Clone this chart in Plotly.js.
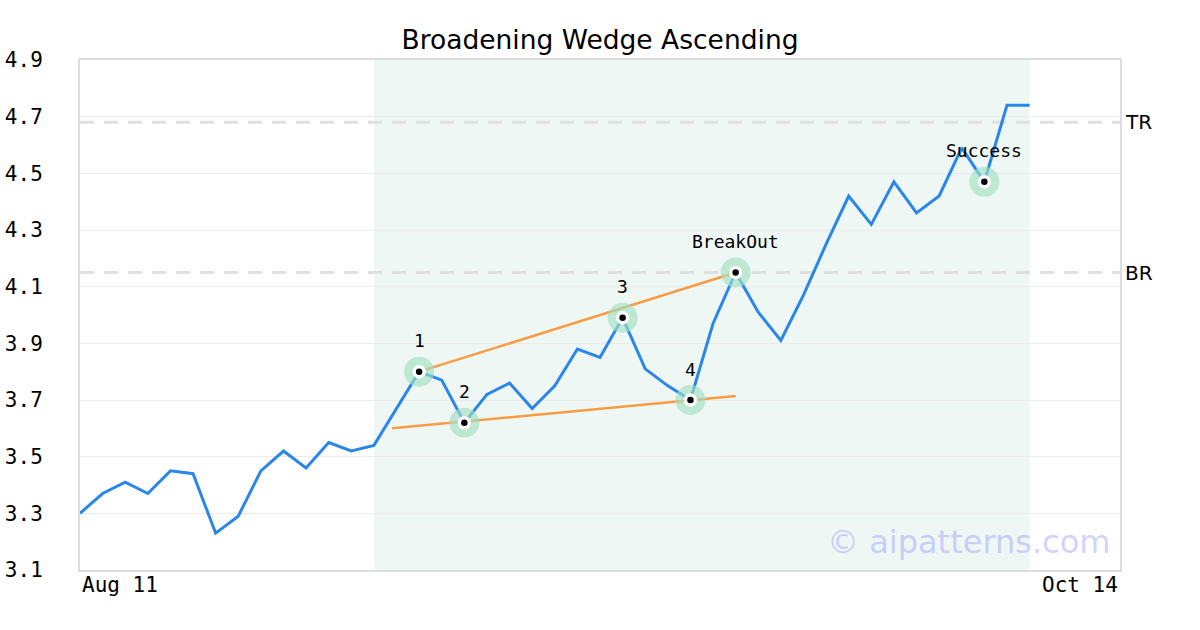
<!DOCTYPE html>
<html>
<head>
<meta charset="utf-8">
<script src="https://cdn.plot.ly/plotly-3.0.1.min.js"></script>
<style>
  html, body { margin: 0; padding: 0; background: #fff; }
  #chart { width: 1200px; height: 630px; }
</style>
</head>
<body>
<div id="chart"></div>
<script>
// ---- Data ----
const prices = [3.30, 3.37, 3.41, 3.37, 3.45, 3.44, 3.23, 3.29, 3.45, 3.52,
                3.46, 3.55, 3.52, 3.54, 3.67, 3.80, 3.77, 3.62, 3.72, 3.76,
                3.67, 3.75, 3.88, 3.85, 3.99, 3.81, 3.75, 3.70, 3.97, 4.15,
                4.01, 3.91, 4.07, 4.25, 4.42, 4.32, 4.47, 4.36, 4.42, 4.59,
                4.47, 4.74, 4.74];
const dateLabels = ["Aug 11", "Oct 14"];
const pointIdx = [15, 17, 24, 27, 29, 40];
const pointLabels = ["1", "2", "3", "4", "BreakOut", "Success"];
const upperLineX = [15, 29];
const upperLineY = [3.80, 4.15];
const lowerLineX = [13.8, 29];
const lowerLineY = [3.60, 3.714];
const levelNames = ["TR", "BR"];
const levelValues = [4.68, 4.15];
const patternStart = 13;
const patternEnd = 42;
const yTicks = [3.1, 3.3, 3.5, 3.7, 3.9, 4.1, 4.3, 4.5, 4.7, 4.9];

const xs = prices.map((_, i) => i);
const ptX = pointIdx;
const ptY = pointIdx.map(i => prices[i]);

const mono = "DejaVu Sans Mono, monospace";
const sans = "DejaVu Sans, sans-serif";

const traces = [
  { x: xs, y: prices, type: "scatter", mode: "lines",
    line: { color: "#2a86e8", width: 3 }, hoverinfo: "skip" },
  { x: upperLineX, y: upperLineY, type: "scatter", mode: "lines",
    line: { color: "#f89c43", width: 2.5 }, hoverinfo: "skip" },
  { x: lowerLineX, y: lowerLineY, type: "scatter", mode: "lines",
    line: { color: "#f89c43", width: 2.5 }, hoverinfo: "skip" },
  { x: ptX, y: ptY, type: "scatter", mode: "markers",
    marker: { size: 30, color: "rgba(160,225,195,0.65)" }, hoverinfo: "skip" },
  { x: ptX, y: ptY, type: "scatter", mode: "markers",
    marker: { size: 10, color: "#000", line: { color: "#fff", width: 3.5 } }, hoverinfo: "skip" }
];

const shapes = [
  { type: "rect", xref: "x", yref: "paper", x0: patternStart, x1: patternEnd, y0: 0, y1: 1,
    fillcolor: "#eff7f4", line: { width: 0 }, layer: "below" }
];
levelValues.forEach(v => shapes.push({
  type: "line", xref: "paper", yref: "y", x0: 0, x1: 1, y0: v, y1: v,
  line: { color: "#e0e0e0", width: 3, dash: "14px,10px" }, layer: "below"
}));

const annotations = [];
pointIdx.forEach((idx, k) => annotations.push({
  x: idx, y: prices[idx], xref: "x", yref: "y", text: pointLabels[k],
  showarrow: false, yshift: 31, font: { family: mono, size: 18, color: "#000" }
}));
levelNames.forEach((n, k) => annotations.push({
  x: 1, y: levelValues[k], xref: "paper", yref: "y", text: n, xanchor: "left",
  xshift: 3, showarrow: false, font: { family: sans, size: 20, color: "#000" }
}));
annotations.push({ x: 0, y: 0, xref: "paper", yref: "paper", text: dateLabels[0],
  xanchor: "left", yanchor: "top", yshift: -1, xshift: 0, showarrow: false,
  font: { family: mono, size: 21, color: "#000" } });
annotations.push({ x: 1, y: 0, xref: "paper", yref: "paper", text: dateLabels[1],
  xanchor: "right", yanchor: "top", yshift: -1, xshift: 0, showarrow: false,
  font: { family: mono, size: 21, color: "#000" } });
annotations.push({ x: 1, y: 0, xref: "paper", yref: "paper", text: "© aipatterns.com",
  xanchor: "right", yanchor: "bottom", xshift: -8, yshift: 7, showarrow: false,
  font: { family: sans, size: 32, color: "rgba(140,140,255,0.4)" } });

const layout = {
  width: 1200, height: 630,
  margin: { l: 80, r: 80, t: 60, b: 60 },
  paper_bgcolor: "#fff", plot_bgcolor: "#fff",
  showlegend: false,
  title: { text: "Broadening Wedge Ascending", x: 0.5, xanchor: "center",
    yref: "container", y: 0.937, yanchor: "middle",
    font: { family: sans, size: 26.5, color: "#000" } },
  xaxis: { range: [0, 46], showgrid: false, zeroline: false, showticklabels: false,
    showline: true, mirror: true, linecolor: "#dddddd", linewidth: 2, fixedrange: true },
  yaxis: { range: [3.1, 4.9], tickvals: yTicks, ticktext: yTicks.map(v => v.toFixed(1)),
    showgrid: true, gridcolor: "#ebebeb", gridwidth: 1, zeroline: false,
    showline: true, mirror: true, linecolor: "#dddddd", linewidth: 2,
    ticks: "", ticklabelstandoff: 31,
    tickfont: { family: mono, size: 21, color: "#000" } },
  shapes: shapes,
  annotations: annotations
};

Plotly.newPlot("chart", traces, layout, { displayModeBar: false, staticPlot: true });
</script>
</body>
</html>
